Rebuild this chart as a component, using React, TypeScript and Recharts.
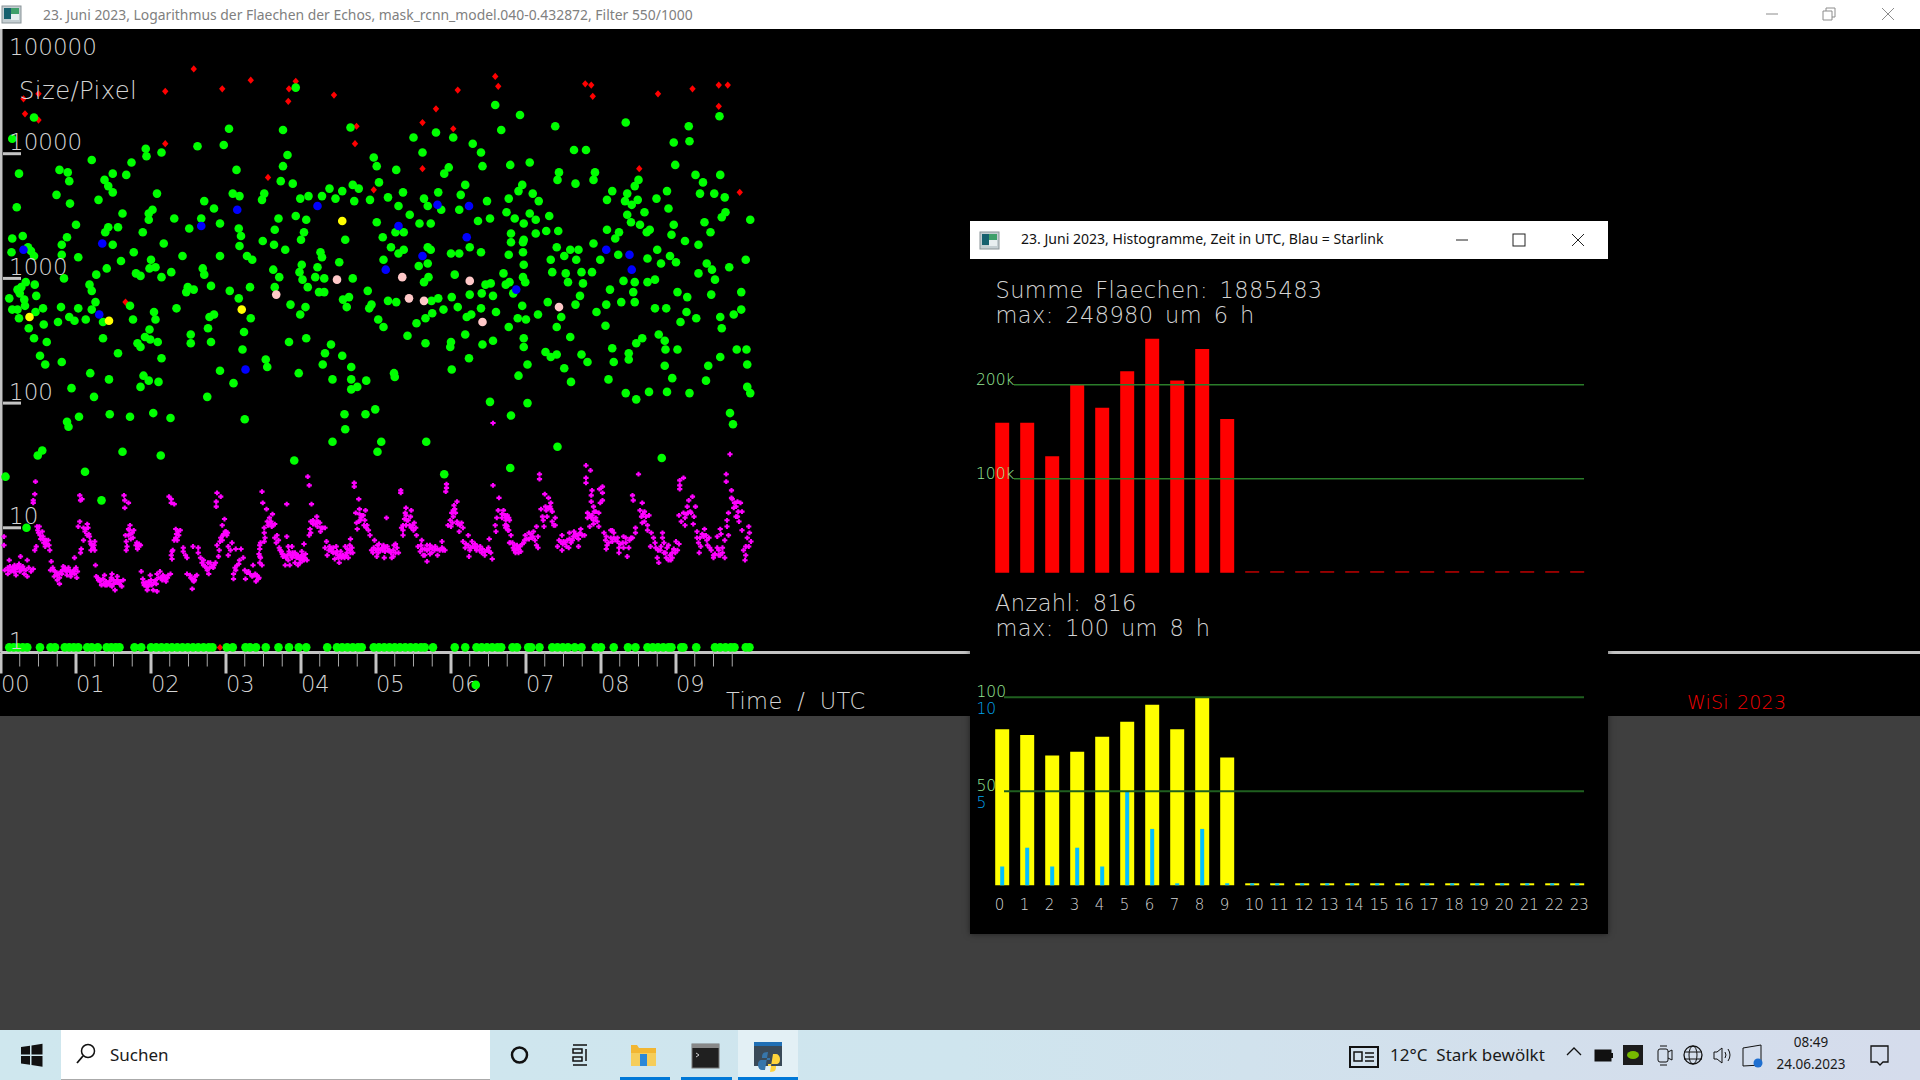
import React from 'react';
import { ScatterChart, Scatter, BarChart, Bar, Cell, XAxis, YAxis, ReferenceLine } from 'recharts';

type Row = [number, number];

// Echoes: [hour UTC, log10(size in pixels)]
const redEchoes: Row[] = [[2.57,4.68],[2.19,4.50],[.50,4.48],[.30,4.44],[.32,4.32],[.50,4.27],[2.95,4.52],[3.33,4.59],[3.93,4.58],[3.84,4.52],[3.83,4.42],[4.44,4.47],[4.74,4.22],[4.72,4.08],[2.19,4.08],[3.56,3.81],[4.97,3.71],[5.62,4.25],[5.80,4.36],[6.03,4.20],[5.62,3.88],[6.09,4.51],[6.59,4.62],[6.63,4.54],[7.79,4.56],[7.87,4.55],[7.89,4.46],[8.76,4.48],[9.22,4.52],[9.57,4.55],[9.69,4.55],[9.57,4.38],[8.51,3.88],[9.85,3.69],[1.66,2.81],[2.92,.04]];

const greenUpper: Row[] = [[3.93,4.53],[.44,4.29],[.15,4.12],[3.04,4.20],[3.76,4.19],[4.66,4.21],[2.97,4.07],[2.62,4.06],[1.93,4.04],[1.94,3.98],[2.14,4.01],[1.74,3.93],[1.21,3.95],[.24,3.84],[.78,3.87],[.89,3.85],[.91,3.78],[1.49,3.84],[1.67,3.83],[1.38,3.79],[1.43,3.74],[1.49,3.69],[.74,3.67],[.92,3.60],[.21,3.57],[1.30,3.63],[2.08,3.68],[1.62,3.52],[1.97,3.52],[2.02,3.55],[1.97,3.47],[1.0,3.43],[1.56,3.41],[1.43,3.41],[1.39,3.37],[1.89,3.37],[.88,3.33],[.15,3.32],[.29,3.34],[.81,3.27],[1.49,3.27],[.81,3.19],[1.03,3.17],[.36,3.25],[.40,3.22],[.14,3.21],[.44,3.18],[1.60,3.14],[1.77,3.21],[2.17,3.28],[2.31,3.48],[2.51,3.40],[2.67,3.48],[2.92,3.44],[2.71,3.62],[2.84,3.56],[3.09,3.68],[3.18,3.66],[3.14,3.87],[3.82,3.99],[3.76,3.90],[3.73,3.78],[3.89,3.76],[3.48,3.63],[3.51,3.68],[3.99,3.64],[4.10,3.66],[4.28,3.66],[4.38,3.72],[4.46,3.64],[4.55,3.70],[4.69,3.75],[4.77,3.72],[4.71,3.62],[4.92,3.63],[5.04,3.77],[4.97,3.97],[5.01,3.90],[5.27,3.87],[5.16,3.65],[5.36,3.69],[5.30,3.58],[5.45,3.51],[5.58,3.44],[5.73,3.44],[5.64,3.64],[5.69,3.58],[5.83,3.69],[5.87,3.55],[6.11,3.55],[6.13,3.67],[6.19,3.75],[5.91,3.84],[5.97,3.89],[5.50,4.13],[5.80,4.17],[6.03,4.13],[5.62,4.01],[6.29,4.08],[6.40,4.01],[6.42,3.90],[6.59,4.39],[6.67,4.19],[6.92,4.31],[7.39,4.22],[8.33,4.25],[9.17,4.22],[8.97,4.09],[9.18,4.10],[9.58,4.30],[7.64,4.03],[7.80,4.03],[6.79,3.91],[7.05,3.93],[7.44,3.85],[7.42,3.79],[7.66,3.76],[7.92,3.85],[7.90,3.79],[8.99,3.91],[9.26,3.83],[9.36,3.77],[9.59,3.83],[8.50,3.79],[8.45,3.74],[8.88,3.70],[9.32,3.68],[9.51,3.68],[9.65,3.65],[8.15,3.70],[8.08,3.63],[8.35,3.68],[8.32,3.62],[8.41,3.59],[8.49,3.63],[8.74,3.64],[8.90,3.56],[8.58,3.53],[8.35,3.51],[8.40,3.45],[8.52,3.43],[8.97,3.43],[9.38,3.45],[9.61,3.49],[9.66,3.53],[9.99,3.47],[9.46,3.37],[8.65,3.39],[8.61,3.37],[8.24,3.37],[8.19,3.32],[8.08,3.39],[7.90,3.28],[7.27,3.38],[7.43,3.38],[7.31,3.50],[7.13,3.47],[7.05,3.52],[6.85,3.48],[6.74,3.53],[6.97,3.44],[6.95,3.75],[6.90,3.70],[7.09,3.68],[7.17,3.62],[6.77,3.64],[6.48,3.62],[6.52,3.48],[6.36,3.46],[6.80,3.36],[6.80,3.29],[7.13,3.36],[6.96,3.29],[6.96,3.21],[6.77,3.19],[7.41,3.25],[7.33,3.15],[7.51,3.18],[7.59,3.23],[7.70,3.23],[7.67,3.15]];

const greenMiddle: Row[] = [[8.23,3.19],[7.99,3.15],[8.75,3.23],[8.62,3.16],[8.92,3.18],[8.80,3.12],[9.00,3.13],[8.94,3.35],[9.12,3.30],[9.30,3.27],[9.93,3.15],[9.41,3.12],[9.48,3.07],[9.71,3.09],[9.30,3.04],[9.52,2.99],[9.87,2.89],[9.02,2.89],[9.15,2.85],[9.47,2.87],[8.72,2.99],[8.62,2.97],[8.45,2.97],[8.30,2.98],[8.12,2.91],[8.43,2.89],[8.45,2.81],[8.27,2.81],[8.07,2.79],[7.94,2.73],[8.06,2.62],[7.72,2.86],[7.66,2.79],[7.76,2.96],[7.74,3.05],[7.88,3.05],[7.56,2.97],[7.53,3.04],[7.35,3.05],[6.97,3.11],[6.96,3.01],[6.99,2.97],[6.70,3.04],[6.73,2.95],[6.78,2.97],[6.83,2.88],[6.53,2.96],[6.46,2.95],[6.25,2.87],[6.41,2.88],[6.56,2.86],[6.95,2.78],[7.29,2.81],[7.16,2.71],[7.47,2.69],[7.41,2.61],[6.89,2.68],[7.00,2.67],[6.77,2.61],[6.60,2.73],[6.40,2.76],[6.27,2.71],[6.21,2.69],[6.09,2.77],[6.01,2.85],[5.90,2.75],[5.83,2.84],[5.74,2.82],[5.75,2.72],[5.66,2.68],[5.54,2.64],[5.03,2.67],[5.10,2.61],[4.94,2.79],[4.91,2.76],[5.27,2.81],[5.16,2.82],[4.89,2.90],[4.64,2.85],[4.56,2.83],[4.61,2.77],[4.69,3.00],[4.51,3.13],[4.59,3.31],[4.26,3.21],[4.28,3.17],[4.22,3.09],[4.19,3.01],[4.31,3.00],[4.31,2.89],[4.24,2.89],[4.09,2.93],[4.02,2.99],[3.98,3.05],[4.01,3.11],[3.65,2.93],[3.63,3.07],[3.71,3.01],[3.28,3.18],[3.35,3.15],[3.32,2.93],[3.17,2.84],[3.05,2.90],[2.92,3.18],[3.18,3.26],[3.20,3.34],[3.17,3.40],[3.49,3.30],[3.64,3.27],[3.79,3.23],[3.65,3.39],[3.70,3.48],[3.93,3.50],[4.07,3.47],[4.04,3.37],[4.00,3.31],[5.09,3.33],[5.20,3.25],[5.01,3.45],[5.37,3.37],[5.26,3.37],[5.37,3.23],[5.30,3.20],[5.10,3.15],[5.69,3.25],[5.73,3.23],[6.00,3.20],[6.11,3.20],[6.25,3.25],[6.40,3.21],[5.69,3.12],[5.57,3.10],[5.70,3.01],[5.64,2.97],[6.05,3.03],[6.97,3.31]];

const greenLower: Row[] = [[2.42,3.18],[2.69,3.08],[2.71,3.03],[2.80,2.94],[2.49,2.93],[2.47,2.89],[2.57,2.91],[2.27,3.05],[2.14,3.01],[2.00,3.15],[1.98,3.08],[2.06,3.09],[1.80,3.04],[1.86,3.02],[1.41,3.08],[1.27,3.03],[.84,3.00],[.45,2.95],[.33,2.97],[.27,2.93],[.22,2.91],[.25,2.88],[.47,2.86],[.11,2.84],[.31,2.83],[.32,2.78],[.15,2.75],[.22,2.75],[.24,2.68],[.56,2.76],[.46,2.73],[.80,2.77],[1.03,2.76],[.91,2.69],[.98,2.66],[1.13,2.67],[.76,2.65],[.57,2.63],[.37,2.60],[.44,2.52],[.61,2.49],[.52,2.38],[.59,2.31],[.81,2.33],[1.18,2.95],[1.21,2.90],[1.26,2.81],[1.21,2.75],[1.72,2.78],[2.04,2.73],[1.76,2.67],[2.06,2.67],[2.34,2.76],[1.36,2.65],[1.36,2.52],[1.98,2.59],[1.92,2.53],[1.99,2.51],[2.09,2.49],[1.82,2.48],[1.86,2.45],[1.56,2.40],[2.14,2.36],[2.53,2.55],[2.53,2.48],[2.84,2.71],[2.78,2.69],[2.76,2.60],[2.80,2.49],[3.24,2.57],[3.33,2.68],[3.22,2.43],[3.86,2.79],[4.06,2.77],[3.99,2.71],[3.84,2.49],[4.07,2.52],[4.40,2.47],[4.32,2.40],[4.55,2.38],[4.29,2.31],[4.67,2.29],[3.53,2.35],[3.55,2.29],[2.92,2.26],[1.19,2.24],[1.44,2.19],[1.90,2.22],[1.97,2.18],[2.10,2.17],[1.86,2.13],[.94,2.12],[3.10,2.16],[3.97,2.24],[4.42,2.19],[4.67,2.19],[4.87,2.18],[4.75,2.13],[4.67,2.11],[5.24,2.24],[5.25,2.21],[6.01,2.27],[6.24,2.36],[6.00,2.49],[5.99,2.45],[5.66,2.48],[5.42,2.54],[6.19,2.55],[6.42,2.47],[6.56,2.50],[6.97,2.52],[6.97,2.45],[7.02,2.31],[6.90,2.22],[7.26,2.41],[7.33,2.37],[7.41,2.39],[7.59,2.53],[7.51,2.28],[7.74,2.39],[7.82,2.33],[7.60,2.17],[8.10,2.19],[8.15,2.44],[8.17,2.33],[8.37,2.40],[8.37,2.35],[8.47,2.48],[8.55,2.52],[8.77,2.55],[8.85,2.50],[8.86,2.43],[9.02,2.43],[8.85,2.30],[8.95,2.20],[9.43,2.30],[9.59,2.37],[9.81,2.43],[9.94,2.43],[9.95,2.31],[9.40,2.18],[9.06,2.65],[9.14,2.73],[9.27,2.68],[9.59,2.69],[9.61,2.60],[9.77,2.71],[9.87,2.75],[8.87,2.76],[8.72,2.76],[9.95,2.13],[9.99,2.08],[9.18,2.08],[8.88,2.09],[8.64,2.09],[8.33,2.08],[1.24,2.05],[2.75,2.05]];

const greenLowest: Row[] = [[.88,1.85],[.90,1.81],[1.04,1.89],[1.45,1.91],[1.72,1.89],[2.03,1.92],[2.26,1.88],[3.25,1.87],[1.62,1.61],[2.13,1.58],[1.12,1.45],[.55,1.62],[.49,1.58],[1.34,1.22],[.06,1.41],[.34,1.00],[4.42,1.69],[4.58,1.91],[4.59,1.79],[4.99,1.95],[4.86,1.91],[5.07,1.69],[5.02,1.61],[3.91,1.54],[5.67,1.69],[5.91,1.43],[6.52,2.01],[7.02,2.00],[6.80,1.90],[6.79,1.48],[7.42,1.65],[8.81,1.56],[8.47,2.03],[9.72,1.92],[9.76,1.83]];

// The one echo that the picture shows below the time axis
const echoBelowAxis: Row[] = [[6.33,-.26]];

// Hours of the row of one-pixel echoes that sits on the time axis
const onePixelHours: number[] = [.11,.17,.23,.29,.35,.52,.66,.72,.85,.91,.97,1.03,1.15,1.21,1.29,1.41,1.47,1.53,1.58,1.78,1.87,2.00,2.07,2.14,2.21,2.28,2.35,2.42,2.49,2.56,2.63,2.70,2.77,2.82,3.01,3.09,3.26,3.32,3.40,3.53,3.70,3.84,3.97,4.07,4.35,4.48,4.55,4.62,4.69,4.76,4.81,4.97,5.04,5.11,5.18,5.25,5.32,5.39,5.46,5.53,5.60,5.65,5.76,6.05,6.19,6.34,6.41,6.48,6.55,6.62,6.67,6.82,6.88,7.03,7.07,7.18,7.35,7.42,7.49,7.56,7.65,7.74,7.93,8.00,8.17,8.36,8.46,8.62,8.69,8.76,8.83,8.90,8.94,9.07,9.10,9.27,9.52,9.59,9.66,9.73,9.78,9.93,9.98];

const blueEchoes: Row[] = [[3.15,3.55],[4.22,3.58],[2.67,3.42],[1.35,3.28],[.30,3.23],[5.30,3.42],[6.24,3.58],[5.82,3.59],[6.21,3.33],[5.62,3.18],[5.13,3.07],[6.87,2.91],[8.07,3.23],[8.38,3.19],[8.41,3.07],[1.31,2.71],[3.26,2.27]];
const yellowEchoes: Row[] = [[4.55,3.46],[.38,2.69],[1.44,2.66],[3.21,2.75]];
const pinkEchoes: Row[] = [[5.35,3.01],[4.48,2.99],[6.25,2.98],[3.67,2.87],[5.44,2.84],[5.64,2.82],[7.44,2.77],[6.42,2.65]];

const magentaFirst: Row[] = [[.05,.66],[.09,.68],[.11,.74],[.12,.69],[.15,.66],[.18,.70],[.19,.65],[.22,.68],[.24,.71],[.26,.77],[.27,.66],[.29,.69],[.31,.63],[.35,.74],[.35,.61],[.37,.68],[.40,.65],[.43,.67],[.09,.63],[.20,.62],[.46,1.37],[.45,1.27],[.43,1.22],[.43,1.20],[.48,1.01],[.51,1.01],[.49,.98],[.55,.97],[.52,.94],[.56,.93],[.57,.88],[.60,.90],[.63,.90],[.59,.85],[.64,.86],[.65,.82],[.47,.85],[.45,.82],[.04,.93],[.04,.86],[.67,.73],[.66,.66],[.69,.68],[.72,.65],[.71,.61],[.75,.62],[.75,.58],[.78,.55],[.81,.63],[.83,.69],[.86,.66],[.88,.62],[.90,.68],[.93,.61],[.96,.65],[.98,.63],[1.0,.68],[1.02,.65],[1.01,.60],[.98,.76],[1.06,.80],[1.07,.83],[1.05,1.26],[1.06,1.22],[1.08,1.23],[1.05,1.05],[1.03,1.01],[1.10,1.0],[1.15,1.03],[1.16,1.0],[1.12,.97],[1.15,.94],[1.10,.90],[1.18,.93],[1.19,.89],[1.21,.86],[1.25,.89],[1.23,.84],[1.25,.82],[1.2,.82],[1.26,.70],[1.27,.61],[1.30,.58],[1.32,.57],[1.38,.62],[1.37,.55],[1.41,.54],[1.45,.57],[1.48,.63],[1.48,.53],[1.52,.50],[1.55,.58],[1.55,.61],[1.58,.55],[1.61,.53],[1.63,.58],[1.34,.54],[1.5,.55],[1.64,1.26],[1.65,1.22],[1.70,1.20],[1.65,1.16],[1.72,1.02],[1.70,.99],[1.77,.98],[1.75,.96],[1.70,.94],[1.76,.92],[1.66,.94],[1.67,.89],[1.68,.85],[1.67,.82],[1.81,.88],[1.83,.85],[1.86,.86],[1.82,.83],[1.87,.65],[1.89,.59],[1.91,.54],[1.94,.53],[1.97,.57],[1.99,.62],[2.01,.54],[2.03,.50],[2.08,.49],[2.06,.58],[2.08,.63],[2.12,.65],[2.15,.58],[2.17,.61],[2.2,.57],[2.23,.62],[2.26,.63],[1.95,.50],[2.24,1.25],[2.27,1.23],[2.27,1.20],[2.31,1.19],[2.33,.99],[2.39,.98],[2.37,.94],[2.33,.92],[2.31,.90],[2.28,.81],[2.29,.82],[2.27,.78],[2.28,.75],[2.43,.84],[2.43,.81],[2.46,.78],[2.48,.76],[2.56,.85],[2.48,.63],[2.52,.62],[2.55,.59],[2.57,.57],[2.61,.62],[2.59,.61],[2.55,.51],[2.63,.84],[2.63,.80],[2.66,.76],[2.68,.72],[2.70,.74],[2.72,.69],[2.75,.66],[2.77,.63],[2.79,.72],[2.83,.68],[2.86,.72],[2.90,.77],[2.91,.82],[2.88,.86],[2.92,.89],[2.95,.90],[2.96,.94],[2.99,.97],[3.01,.94],[2.95,1.02],[2.98,1.07],[2.88,1.28],[2.93,1.25],[2.87,1.21],[2.87,1.17],[3.03,.85],[3.08,.88],[3.06,.82],[3.03,.78],[3.13,.83],[3.2,.83],[3.1,.59],[3.1,.63],[3.12,.68],[3.15,.70],[3.18,.74],[3.23,.76],[3.25,.66],[3.26,.59],[3.3,.65],[3.35,.61],[3.39,.63],[3.42,.61],[3.45,.72],[3.45,.77],[3.45,.86]];

const magentaSecond: Row[] = [[3.36,.70],[3.43,.59],[3.4,.57],[3.48,1.29],[3.49,1.20],[3.54,1.15],[4.09,1.41],[4.11,1.34],[3.81,1.19],[4.14,1.19],[3.62,1.11],[3.58,1.08],[3.55,1.05],[3.59,1.04],[3.63,1.02],[3.65,1.03],[3.51,1.0],[3.51,.96],[3.52,.92],[3.51,.89],[3.46,.88],[3.45,.83],[3.44,.79],[3.46,.76],[3.48,.70],[3.68,.94],[3.65,.92],[3.70,.90],[3.67,.88],[3.81,.93],[3.71,.84],[3.74,.81],[3.76,.77],[3.8,.76],[3.83,.85],[3.88,.85],[3.84,.81],[3.89,.80],[3.79,.70],[3.85,.70],[3.88,.76],[3.92,.80],[3.94,.76],[3.96,.70],[3.99,.72],[4.01,.81],[4.03,.78],[4.05,.76],[4.08,.74],[4.04,.87],[4.21,1.09],[4.16,1.06],[4.21,1.05],[4.25,1.04],[4.13,1.05],[4.29,1.0],[4.32,1.0],[4.26,.97],[4.12,.99],[4.13,.96],[4.11,.94],[4.34,.89],[4.32,.84],[4.38,.85],[4.41,.81],[4.35,.78],[4.43,.80],[4.47,.85],[4.48,.81],[4.52,.78],[4.51,.72],[4.54,.76],[4.59,.85],[4.61,.80],[4.63,.76],[4.65,.82],[4.69,.80],[4.66,.91],[4.65,.86],[4.45,.75],[4.71,1.36],[4.71,1.33],[4.77,1.23],[4.78,1.15],[4.73,1.12],[4.86,1.14],[4.81,1.10],[4.79,1.06],[4.74,1.04],[4.75,.99],[4.85,1.06],[4.88,1.02],[4.9,.98],[4.92,.94],[4.98,.90],[5.04,.87],[4.94,.82],[4.96,.80],[5.01,.77],[5.03,.83],[5.08,.84],[5.11,.76],[5.12,.81],[5.16,.82],[5.21,.76],[5.23,.77],[5.24,.86],[5.28,.84],[5.3,.80],[5.14,1.08],[5.33,1.30],[5.33,1.28],[5.4,1.16],[5.47,1.14],[5.39,1.12],[5.46,1.09],[5.41,1.06],[5.36,1.02],[5.34,1.0],[5.45,1.02],[5.51,1.04],[5.53,1.0],[5.5,.98],[5.36,.98],[5.36,.94],[5.54,.94],[5.61,.90],[5.56,.85],[5.59,.81],[5.63,.78],[5.68,.73],[5.68,.82],[5.72,.86],[5.74,.80],[5.79,.85],[5.82,.78],[5.88,.89],[5.89,.82],[5.92,.82],[5.94,1.35],[5.94,1.32],[5.93,1.29],[6.08,1.21],[6.04,1.18],[6.03,1.14],[6.01,1.12],[5.99,1.06],[5.96,1.02],[6.0,1.01],[6.08,1.05],[6.14,1.04],[6.16,1.0],[6.11,.97],[6.23,.94],[6.16,.89],[6.19,.84],[6.28,.89],[6.32,.87],[6.25,.82],[6.24,.77],[6.34,.82],[6.39,.85],[6.41,.80],[6.45,.78],[6.51,.91],[6.5,.84],[6.53,.80],[6.55,.75],[6.56,1.34],[6.64,1.24],[6.63,1.14],[6.7,1.14],[6.61,1.08],[6.68,1.08],[6.74,1.08],[6.59,1.02],[6.6,.97],[6.74,1.02],[6.78,.88],[6.76,.98],[6.56,1.84]];

const magentaThird: Row[] = [[6.73,1.06],[6.77,1.08],[6.75,1.01],[6.77,.98],[6.8,.94],[7.18,1.43],[7.18,1.39],[7.25,1.27],[7.30,1.24],[7.33,1.2],[7.32,1.17],[7.26,1.17],[7.2,1.15],[7.35,1.13],[7.22,1.09],[7.23,1.06],[7.24,1.01],[7.35,1.05],[7.39,1.08],[7.39,1.02],[7.37,1.02],[6.79,.88],[6.83,.84],[6.86,.80],[6.88,.86],[6.93,.81],[6.97,.88],[6.99,.94],[7.04,.96],[7.08,.92],[7.10,.97],[7.14,1.01],[7.16,.93],[7.14,.86],[7.16,.84],[6.90,.83],[7.48,.94],[7.44,.90],[7.42,.85],[7.48,.82],[7.50,.89],[7.57,.84],[7.58,.96],[7.62,.90],[7.64,.97],[7.66,.93],[7.70,.85],[7.73,.99],[7.75,.94],[7.78,.94],[7.86,1.46],[7.80,1.40],[7.80,1.36],[7.88,1.30],[7.87,1.26],[8.02,1.33],[7.98,1.31],[8.02,1.28],[8.02,1.22],[7.99,1.20],[7.87,1.21],[7.90,1.17],[7.82,1.12],[7.93,1.13],[7.97,1.12],[7.82,1.08],[7.90,1.06],[7.95,1.05],[7.85,1.01],[7.97,1.01],[8.04,.96],[8.15,.98],[8.17,.96],[8.06,.90],[8.08,.86],[8.07,.83],[8.17,.92],[8.22,.89],[8.24,.84],[8.24,.80],[8.30,.93],[8.33,.88],[8.35,.77],[8.37,.84],[8.42,.92],[8.46,1.0],[8.46,.96],[8.15,.89],[8.50,1.43],[8.42,1.26],[8.43,1.22],[8.55,1.20],[8.52,1.14],[8.58,1.13],[8.54,1.09],[8.64,1.10],[8.55,1.04],[8.62,1.02],[8.62,.98],[8.67,.96],[8.70,.92],[8.66,.85],[8.73,.84],[8.75,.76],[8.77,.72],[8.82,.96],[8.82,.92],[8.84,.88],[8.79,.82],[8.86,.80],[8.90,.74],[8.95,.76],[8.99,.80],[9.02,.82],[9.0,.89],[9.04,.87],[8.90,.86],[9.10,1.40],[9.05,1.38],[9.05,1.34],[9.05,1.31],[9.22,1.25],[9.17,1.22],[9.15,1.17],[9.26,1.17],[9.19,1.13],[9.10,1.12],[9.04,1.10],[9.24,1.09],[9.07,1.05],[9.12,1.02],[9.23,1.03],[9.28,.97],[9.38,.99],[9.28,.92],[9.37,.93],[9.33,.85],[9.31,.80],[9.44,.92],[9.45,.84],[9.50,.78],[9.55,.93],[9.59,.99],[9.60,.95],[9.57,.82],[9.62,.84],[9.65,.90],[9.65,.76],[9.59,.78],[9.50,.76],[9.67,1.43],[9.67,1.37],[9.74,1.30],[9.75,1.23],[9.82,1.21],[9.86,1.20],[9.77,1.16],[9.88,1.13],[9.70,1.12],[9.68,1.06],[9.82,1.09],[9.84,1.05],[9.68,1.01],[9.70,.94],[9.88,.98],[9.97,1.01],[9.98,.96],[9.95,.92],[10.0,.89],[9.97,.85],[9.93,.85],[9.90,.82],[9.93,.78],[9.92,.74],[7.80,1.50],[9.72,1.59]];

// Marks estimated inside the solid clusters, where single crosses cannot be told apart
const magentaClusters: Row[] = [[.10,.66],[.13,.65],[.16,.68],[.19,.67],[.21,.68],[.23,.69],[.25,.68],[.28,.68],[.30,.67],[.33,.66],[.25,.65],[.17,.65],[.70,.66],[.74,.64],[.77,.63],[.80,.65],[.82,.66],[.85,.68],[.87,.65],[.89,.66],[.92,.65],[.94,.63],[.97,.66],[.78,.60],[1.29,.60],[1.33,.58],[1.36,.59],[1.40,.57],[1.43,.55],[1.46,.54],[1.50,.58],[1.53,.56],[1.56,.56],[1.59,.57],[1.47,.60],[1.39,.54],[1.90,.56],[1.93,.56],[1.96,.53],[1.98,.56],[2.0,.58],[2.04,.56],[2.07,.55],[2.10,.60],[2.13,.60],[2.16,.62],[2.19,.60],[2.22,.60],[.50,.96],[.53,.91],[.58,.90],[.61,.87],[1.13,.99],[1.17,.95],[1.20,.87],[1.24,.86],[1.71,.98],[1.73,.95],[1.73,.91],[1.84,.87],[1.80,.86],[2.36,.97],[2.34,.95],[2.35,.90],[2.53,.60],[2.56,.58],[2.58,.58],[2.70,.70],[2.74,.68],[2.78,.68],[2.81,.69],[2.76,.72],[2.84,.70],[2.97,.95],[3.0,.97],[3.02,.96],[2.93,.92],[3.13,.66],[3.17,.71],[3.28,.64],[3.32,.63],[3.37,.62],[3.41,.62],[3.44,.60],[3.72,.82],[3.75,.79],[3.78,.78],[3.82,.78],[3.86,.78],[3.9,.78],[3.93,.78],[3.96,.78],[3.98,.75],[4.0,.77],[4.02,.74],[4.04,.74],[3.83,.74],[3.92,.72],[4.06,.79],[4.16,1.03],[4.19,1.03],[4.23,1.05],[4.22,1.01],[4.27,1.0],[3.60,1.05],[3.56,1.02],[3.61,1.01],[4.37,.82],[4.40,.83],[4.43,.84],[4.46,.80],[4.49,.78],[4.53,.81],[4.56,.78],[4.6,.78],[4.62,.83],[4.66,.80],[4.68,.84],[4.58,.76],[4.50,.76],[4.78,1.11],[4.8,1.08],[4.83,1.1],[4.77,1.05],[4.84,1.02],[4.87,1.0],[4.97,.84],[5.0,.82],[5.03,.80],[5.06,.82],[5.09,.82],[5.12,.84],[5.15,.85],[5.18,.82],[5.2,.80],[5.23,.82],[5.26,.8],[5.26,.87],[5.02,.86],[5.10,.86],[5.4,1.10],[5.38,1.07],[5.43,1.06],[5.47,1.0],[5.49,1.02],[5.40,1.02],[5.6,.86],[5.62,.83],[5.65,.83],[5.68,.86],[5.71,.83],[5.75,.84],[5.78,.82],[5.82,.83],[5.85,.82],[5.88,.84],[5.9,.83],[5.65,.78],[5.72,.79],[6.05,1.15],[6.06,1.12],[6.03,1.09],[6.12,1.02],[6.09,1.03],[6.02,1.04],[6.2,.87],[6.23,.86],[6.26,.84],[6.29,.85],[6.32,.84],[6.35,.85],[6.38,.82],[6.42,.83],[6.45,.81],[6.48,.82],[6.51,.81],[6.68,1.11],[6.72,1.1],[6.75,1.1],[6.78,1.06],[6.72,1.02],[6.73,1.0],[6.82,.88],[6.85,.86],[6.88,.83],[6.92,.85],[6.95,.87],[6.98,.90],[7.01,.91],[7.04,.91],[7.06,.95],[7.09,.93],[7.12,.90],[6.84,.82],[6.90,.80],[7.27,1.14],[7.30,1.16],[7.33,1.15],[7.28,1.09],[7.46,.89],[7.49,.87],[7.52,.88],[7.55,.90],[7.58,.91],[7.6,.88],[7.63,.93],[7.66,.95],[7.69,.94],[7.72,.96],[7.7,.91],[7.54,.85],[7.85,1.1],[7.88,1.1],[7.91,1.13],[7.93,1.08],[7.87,1.08],[7.9,1.03],[8.07,.93],[8.1,.88],[8.13,.92],[8.13,.98],[8.19,.91],[8.22,.92],[8.26,.87],[8.29,.88],[8.33,.92],[8.38,.90],[8.4,.92],[8.3,.84],[8.56,1.11],[8.6,1.09],[8.58,1.05],[8.72,.88],[8.76,.82],[8.8,.85],[8.84,.8],[8.87,.76],[8.92,.78],[8.95,.80],[8.97,.83],[8.93,.74],[8.88,.84],[9.16,1.12],[9.20,1.12],[9.12,1.08],[9.14,1.11],[9.32,.92],[9.35,.95],[9.4,.94],[9.41,.90],[9.42,.86],[9.47,.82],[9.52,.79],[9.57,.78],[9.62,.80],[9.55,.84],[9.3,.88],[9.78,1.2],[9.8,1.17],[9.83,1.13],[9.8,1.09],[9.74,1.24]];

const quarterHourTicks: number[] = [0,.25,.5,.75,1,1.25,1.5,1.75,2,2.25,2.5,2.75,3,3.25,3.5,3.75,4,4.25,4.5,4.75,5,5.25,5.5,5.75,6,6.25,6.5,6.75,7,7.25,7.5,7.75,8,8.25,8.5,8.75,9,9.25,9.5,9.75];
const sizeTicks: number[] = [1,10,100,1000,10000,100000];

// Histograms by hour UTC
const hours: number[] = [0,1,2,3,4,5,6,7,8,9,10,11,12,13,14,15,16,17,18,19,20,21,22,23];
const areaByHour: number[] = [159600,159600,123800,199600,175500,214200,248980,204600,238000,163500,0,0,0,0,0,0,0,0,0,0,0,0,0,0];
const countByHour: number[] = [83,80,69,71,79,87,96,83,100,68,0,0,0,0,0,0,0,0,0,0,0,0,0,0];
const starlinkByHour: number[] = [1,2,1,2,1,5,3,0,3,0,0,0,0,0,0,0,0,0,0,0,0,0,0,0];

const toPoints = (rows: Row[]) => rows.map(([hour, log]) => ({ hour, size: 10 ** log }));
const greenEchoes = [...greenUpper, ...greenMiddle, ...greenLower, ...greenLowest];
const magentaEchoes = [...magentaFirst, ...magentaSecond, ...magentaThird, ...magentaClusters];
const onePixelPoints = onePixelHours.map((hour) => ({ hour, size: 1.1 }));
const areaData = hours.map((hour, i) => ({ hour, area: areaByHour[i] }));
const countData = hours.map((hour, i) => ({ hour, count: countByHour[i], starlink: starlinkByHour[i] }));

const LINE_FONT = '"DejaVu Sans"';
const AXIS_GRAY = '#c4c4c4';
const TEXT_GRAY = '#d4d4d4';
const GREEN_LABEL = '#96e896';
const BLUE_LABEL = '#00a4ec';

const dot = (fill: string) => (p: any) => <circle cx={p.cx} cy={p.cy} r={4.3} fill={fill} />;
const diamond = (p: any) => <path d={`M${p.cx} ${p.cy - 3.6}L${p.cx + 3.2} ${p.cy}L${p.cx} ${p.cy + 3.6}L${p.cx - 3.2} ${p.cy}Z`} fill="#ff0000" />;
const plus = (p: any) => <path d={`M${p.cx - 2.6} ${p.cy}h5.2M${p.cx} ${p.cy - 2.4}v4.8`} stroke="#ff00ff" strokeWidth={2.1} fill="none" />;

const TimeTick = (p: any) => {
  const v = p.payload.value;
  const major = Number.isInteger(v);
  return (
    <g>
      <line x1={p.x} x2={p.x} y1={p.y} y2={p.y + (major ? 21 : 14)} stroke={major ? AXIS_GRAY : '#a8a8a8'} strokeWidth={major ? 3 : 1} />
      {major && <text x={p.x} y={692} fill={TEXT_GRAY} fontSize={22.5} fontFamily={LINE_FONT} fontWeight={200}>{String(v).padStart(2, '0')}</text>}
    </g>
  );
};

const SizeTick = (p: any) => {
  const v = p.payload.value;
  const top = v === 100000;
  return (
    <g>
      {!top && v !== 1 && <line x1={3} x2={21} y1={p.y} y2={p.y} stroke={AXIS_GRAY} strokeWidth={3} />}
      <text x={9} y={top ? 55 : p.y - 3.5} fill={TEXT_GRAY} fontSize={23} fontFamily={LINE_FONT} fontWeight={200}>{v}</text>
    </g>
  );
};

const Label = ({ x, y, size = 22.5, fill = TEXT_GRAY, word = 4, letter = 0.4, children }: any) => (
  <text x={x} y={y} fill={fill} fontSize={size} fontFamily={LINE_FONT} fontWeight={200} style={{ wordSpacing: word, letterSpacing: letter }}>{children}</text>
);

const Controls = ({ color, active }: { color: string; active: boolean }) => (
  <g stroke={color} strokeWidth={1} fill="none">
    <line x1={-122} x2={-110} y1={0} y2={0} />
    {active ? <rect x={-65} y={-6} width={12} height={12} /> : <path d="M-65 -3h9v9h-9zM-62 -3v-3h9v9h-3" />}
    <path d="M-6 -6L6 6M6 -6L-6 6" />
  </g>
);

const AppIcon = ({ x, y }: { x: number; y: number }) => (
  <g transform={`translate(${x} ${y})`}>
    <rect width={19} height={17} fill="#c4ced2" stroke="#8a9498" />
    <rect x={2} y={2} width={7} height={11} fill="#16606e" />
    <rect x={9} y={2} width={8} height={6} fill="#3f9f6a" />
    <rect x={9} y={8} width={8} height={6} fill="#e8eef0" />
  </g>
);

const Taskbar = () => (
  <div style={{ position: 'absolute', left: 0, top: 1030, width: 1920, height: 50, background: 'linear-gradient(90deg,#cfe7ee 0%,#cfe5ee 50%,#d3dfec 80%,#d5dcec 100%)', fontFamily: '"Noto Sans"', color: '#1a1a1a', fontSize: 17 }}>
    <div style={{ position: 'absolute', left: 61, top: 0, width: 429, height: 50, background: '#fff', borderBottom: '1px solid #aaa', boxSizing: 'border-box' }} />
    <div style={{ position: 'absolute', left: 738, top: 0, width: 60, height: 50, background: '#e3f0f5' }} />
    {[[620, 50], [681, 51], [738, 60]].map(([l, w]) => <div key={l} style={{ position: 'absolute', left: l, top: 47, width: w, height: 3, background: '#0078d7' }} />)}
    <svg width={1920} height={50} style={{ position: 'absolute', left: 0, top: 0 }}>
      <g fill="#111">
        <path d="M21 17l9-1.300v8.700h-9zM31.500 15.500l11-1.700v10.600h-11zM21 26h9v8.700l-9-1.300zM31.500 26h11v10.700l-11-1.700z" />
      </g>
      <circle cx={88} cy={21} r={6.500} fill="none" stroke="#111" strokeWidth={1.500} />
      <line x1={83} y1={26} x2={77} y2={33} stroke="#111" strokeWidth={1.800} />
      <circle cx={519.500} cy={25} r={7.500} fill="none" stroke="#111" strokeWidth={2.500} />
      <path d="M573 15h14M573 35h14M573 19h9v4h-9zM573 27h9v4h-9zM586 19v12" fill="none" stroke="#111" strokeWidth={1.500} />
      <path d="M631 15h6l2 3h17v18h-25z" fill="#f2b632" />
      <rect x={631} y={23} width={25} height={13} fill="#f5cd5a" />
      <rect x={640} y={24} width={7} height={12} fill="#2b88d8" />
      <rect x={692} y={14} width={27} height={24} fill="#202020" stroke="#777" />
      <rect x={692} y={14} width={27} height={4} fill="#888" />
      <path d="M696 23l3 2-3 2" fill="none" stroke="#ccc" />
      <rect x={754} y={12} width={28} height={24} fill="#3a4a58" />
      <rect x={754} y={12} width={28} height={4} fill="#1f6fb5" />
      <path d="M768 22c-6 0-6 3-6 6h8v2h-8c-3 0-4 2-4 5s2 5 4 5h3" fill="#3776ab" />
      <path d="M770 42c6 0 6-3 6-6h-8v-2h8c3 0 4-2 4-5s-2-5-4-5h-3" fill="#ffd43b" />
      <rect x={1350} y={17} width={28} height={20} fill="none" stroke="#111" strokeWidth={2} />
      <path d="M1354 22h8v9h-8zM1365 23h9M1365 27h9M1365 31h9" fill="none" stroke="#111" strokeWidth={1.500} />
      <path d="M1567 25l7-7 7 7" fill="none" stroke="#111" strokeWidth={1.300} />
      <rect x={1595} y={20} width={16} height={11} fill="#111" stroke="#111" />
      <rect x={1611} y={23} width={2} height={5} fill="#111" />
      <rect x={1623} y={15} width={20} height={20} fill="#1c1c1c" />
      <ellipse cx={1633} cy={25} rx={6} ry={4} fill="#76b900" />
      <rect x={1658} y={19} width={10} height={13} rx={2} fill="none" stroke="#111" />
      <path d="M1668 22l4-2v10l-4-2M1660 16h7M1660 35h7" fill="none" stroke="#111" />
      <circle cx={1693} cy={25} r={9} fill="none" stroke="#111" strokeWidth={1.300} />
      <ellipse cx={1693} cy={25} rx={4} ry={9} fill="none" stroke="#111" />
      <path d="M1684 22h18M1684 29h18" stroke="#111" />
      <path d="M1714 22h3l5-4v15l-5-4h-3zM1725 22q2 3 0 6M1728 19q4 6 0 12" fill="none" stroke="#111" />
      <path d="M1743 18l18-3v20l-18 1z" fill="none" stroke="#111" />
      <circle cx={1758} cy={33} r={4.500} fill="#1f6fd0" />
      <path d="M1871 16h17v16h-5l-3 3-3-3h-6z" fill="none" stroke="#111" strokeWidth={1.300} />
    </svg>
    <div style={{ position: 'absolute', left: 110, top: 13, fontSize: 17 }}>Suchen</div>
    <div style={{ position: 'absolute', left: 1390, top: 13, whiteSpace: 'pre' }}>12°C  Stark bewölkt</div>
    <div style={{ position: 'absolute', left: 1771, width: 80, top: 3, textAlign: 'center', fontSize: 13.500 }}>08:49</div>
    <div style={{ position: 'absolute', left: 1771, width: 80, top: 25, textAlign: 'center', fontSize: 13.500 }}>24.06.2023</div>
  </div>
);

export default function App() {
  return (
    <div style={{ position: 'fixed', left: 0, top: 0, width: 1920, height: 1080, background: '#3f3f3f', overflow: 'hidden' }}>
      {/* Main window */}
      <div style={{ position: 'absolute', left: 0, top: 0, width: 1920, height: 29, background: '#fff' }} />
      <div style={{ position: 'absolute', left: 43, top: 5, fontFamily: '"Noto Sans"', fontSize: 13.9, color: '#808080', whiteSpace: 'nowrap' }}>
        23. Juni 2023, Logarithmus der Flaechen der Echos, mask_rcnn_model.040-0.432872, Filter 550/1000
      </div>
      <svg width={1920} height={29} style={{ position: 'absolute', left: 0, top: 0 }}>
        <AppIcon x={2} y={6} />
        <g transform="translate(1888 14)"><Controls color="#8c8c8c" active={false} /></g>
      </svg>
      <div style={{ position: 'absolute', left: 0, top: 29, width: 1920, height: 687, background: '#000' }} />
      <div style={{ position: 'absolute', left: 0, top: 0 }}>
        <ScatterChart width={1920} height={716.5} margin={{ top: 29, left: 1, right: 0, bottom: 0 }}>
          <XAxis type="number" dataKey="hour" domain={[0, 25.587]} ticks={quarterHourTicks} interval={0} height={64} tick={<TimeTick />} tickSize={0} tickMargin={0} tickLine={false} axisLine={{ stroke: AXIS_GRAY, strokeWidth: 3 }} />
          <YAxis type="number" dataKey="size" scale="log" domain={[1, 100000]} ticks={sizeTicks} interval={0} mirror tick={<SizeTick />} tickSize={0} tickMargin={0} tickLine={false} axisLine={{ stroke: AXIS_GRAY, strokeWidth: 3 }} />
          <Scatter data={toPoints(redEchoes)} shape={diamond} isAnimationActive={false} />
          <Scatter data={toPoints(greenEchoes)} shape={dot('#00ff00')} isAnimationActive={false} />
          <Scatter data={onePixelPoints} shape={dot('#00ff00')} isAnimationActive={false} />
          <Scatter data={toPoints(blueEchoes)} shape={dot('#0000ff')} isAnimationActive={false} />
          <Scatter data={toPoints(yellowEchoes)} shape={dot('#ffff00')} isAnimationActive={false} />
          <Scatter data={toPoints(pinkEchoes)} shape={dot('#ffc8c8')} isAnimationActive={false} />
          <Scatter data={toPoints(magentaEchoes)} shape={plus} isAnimationActive={false} />
        </ScatterChart>
      </div>
      {/* Same time and size scales, carried half a decade lower, for the echo under the axis */}
      <div style={{ position: 'absolute', left: 0, top: 0 }}>
        <ScatterChart width={1920} height={690} margin={{ top: 29, left: 1, right: 0, bottom: 0 }}>
          <XAxis type="number" dataKey="hour" domain={[0, 25.587]} hide />
          <YAxis type="number" dataKey="size" scale="log" domain={[0.5, 100000]} hide />
          <Scatter data={toPoints(echoBelowAxis)} shape={dot('#00ff00')} isAnimationActive={false} />
        </ScatterChart>
      </div>
      <svg width={1920} height={730} style={{ position: 'absolute', left: 0, top: 0, pointerEvents: 'none' }}>
        <Label x={19} y={99} size={24.3}>Size/Pixel</Label>
        <Label x={726} y={709} size={22.5} word={7}>{'Time / UTC'}</Label>
        <Label x={1687} y={709} size={19} word={2} letter={0.2} fill="#f00000">WiSi 2023</Label>
      </svg>

      {/* Histogram window */}
      <div style={{ position: 'absolute', left: 970, top: 221, width: 638, height: 713, background: '#000', boxShadow: '0 0 6px rgba(0,0,0,.5)' }}>
        <div style={{ position: 'absolute', left: 0, top: 0, width: 638, height: 38, background: '#fff' }} />
        <div style={{ position: 'absolute', left: 51, top: 8, fontFamily: '"Noto Sans"', fontSize: 14.05, color: '#111', whiteSpace: 'nowrap' }}>
          23. Juni 2023, Histogramme, Zeit in UTC, Blau = Starlink
        </div>
        <svg width={638} height={38} style={{ position: 'absolute', left: 0, top: 0 }}>
          <AppIcon x={10} y={11} />
          <g transform="translate(608 19)"><Controls color="#222" active /></g>
        </svg>
        <svg width={638} height={713} style={{ position: 'absolute', left: 0, top: 0 }}>
          <Label x={25.5} y={77}>{'Summe Flaechen: 1885483'}</Label>
          <Label x={25.5} y={102}>{'max: 248980 um 6 h'}</Label>
          <Label x={25} y={389.5}>{'Anzahl: 816'}</Label>
          <Label x={25.5} y={414.5}>{'max: 100 um 8 h'}</Label>
        </svg>
        <div style={{ position: 'absolute', left: 0, top: 38 }}>
          <BarChart width={638} height={330} data={areaData} barSize={14} margin={{ top: 31.7, left: 19.2, right: 18.8, bottom: 16.3 }}>
            <XAxis dataKey="hour" hide padding={{ left: 0, right: 0 }} />
            <ReferenceLine y={100000} stroke="#2a7d2a" shape={(p: any) => <line x1={44} x2={614} y1={p.y1} y2={p.y1} stroke="#2a7d2a" strokeWidth={1.5} />} />
            <ReferenceLine y={200000} stroke="#2a7d2a" shape={(p: any) => <line x1={44} x2={614} y1={p.y1} y2={p.y1} stroke="#2a7d2a" strokeWidth={1.5} />} />
            <Bar dataKey="area" minPointSize={1.5} isAnimationActive={false}>
              {areaData.map((d) => <Cell key={d.hour} fill={d.area > 0 ? '#ff0000' : '#c00000'} />)}
            </Bar>
            <YAxis domain={[0, 300000]} ticks={[100000, 200000]} mirror axisLine={false} tickLine={false} tickSize={0} tick={(p: any) => <text x={6} y={p.y + 0.5} fill={GREEN_LABEL} fontSize={15.5} fontFamily={LINE_FONT} fontWeight={200}>{p.payload.value / 1000}k</text>} />
          </BarChart>
        </div>
        <div style={{ position: 'absolute', left: 0, top: 429 }}>
          <BarChart width={638} height={270} data={countData} margin={{ top: 28.5, left: 19.2, right: 18.8, bottom: 0 }}>
            <XAxis xAxisId="count" dataKey="hour" interval={0} height={34.7} padding={{ left: 0, right: 0 }} axisLine={false} tickLine={false} tickSize={0} tickMargin={0} tick={(p: any) => <text x={p.x - 7} y={p.y + 24.7} fill={TEXT_GRAY} fontSize={15} fontFamily={LINE_FONT} fontWeight={200}>{p.payload.value}</text>} />
            <XAxis xAxisId="starlink" dataKey="hour" hide padding={{ left: 0, right: 0 }} />
            <Bar xAxisId="count" yAxisId="count" dataKey="count" barSize={14} fill="#ffff00" minPointSize={2} isAnimationActive={false} />
            <Bar xAxisId="starlink" yAxisId="starlink" dataKey="starlink" barSize={4} fill="#00bfff" minPointSize={2} isAnimationActive={false} />
            <ReferenceLine xAxisId="count" yAxisId="count" y={100} stroke="#1f5f1f" shape={(p: any) => <line x1={34} x2={614} y1={p.y1} y2={p.y1} stroke="#1f5f1f" strokeWidth={2} />} />
            <ReferenceLine xAxisId="count" yAxisId="count" y={50} stroke="#1f5f1f" shape={(p: any) => <line x1={34} x2={614} y1={p.y1} y2={p.y1} stroke="#1f5f1f" strokeWidth={2} />} />
            <YAxis yAxisId="count" domain={[0, 110]} ticks={[50, 100]} mirror axisLine={false} tickLine={false} tickSize={0} tick={(p: any) => <text x={6.5} y={p.y} fill={GREEN_LABEL} fontSize={15.5} fontFamily={LINE_FONT} fontWeight={200}>{p.payload.value}</text>} />
            <YAxis yAxisId="starlink" domain={[0, 11]} ticks={[5, 10]} mirror axisLine={false} tickLine={false} tickSize={0} tick={(p: any) => <text x={6.5} y={p.y + 16.5} fill={BLUE_LABEL} fontSize={15.5} fontFamily={LINE_FONT} fontWeight={200}>{p.payload.value}</text>} />
          </BarChart>
        </div>
      </div>
      <Taskbar />
    </div>
  );
}
